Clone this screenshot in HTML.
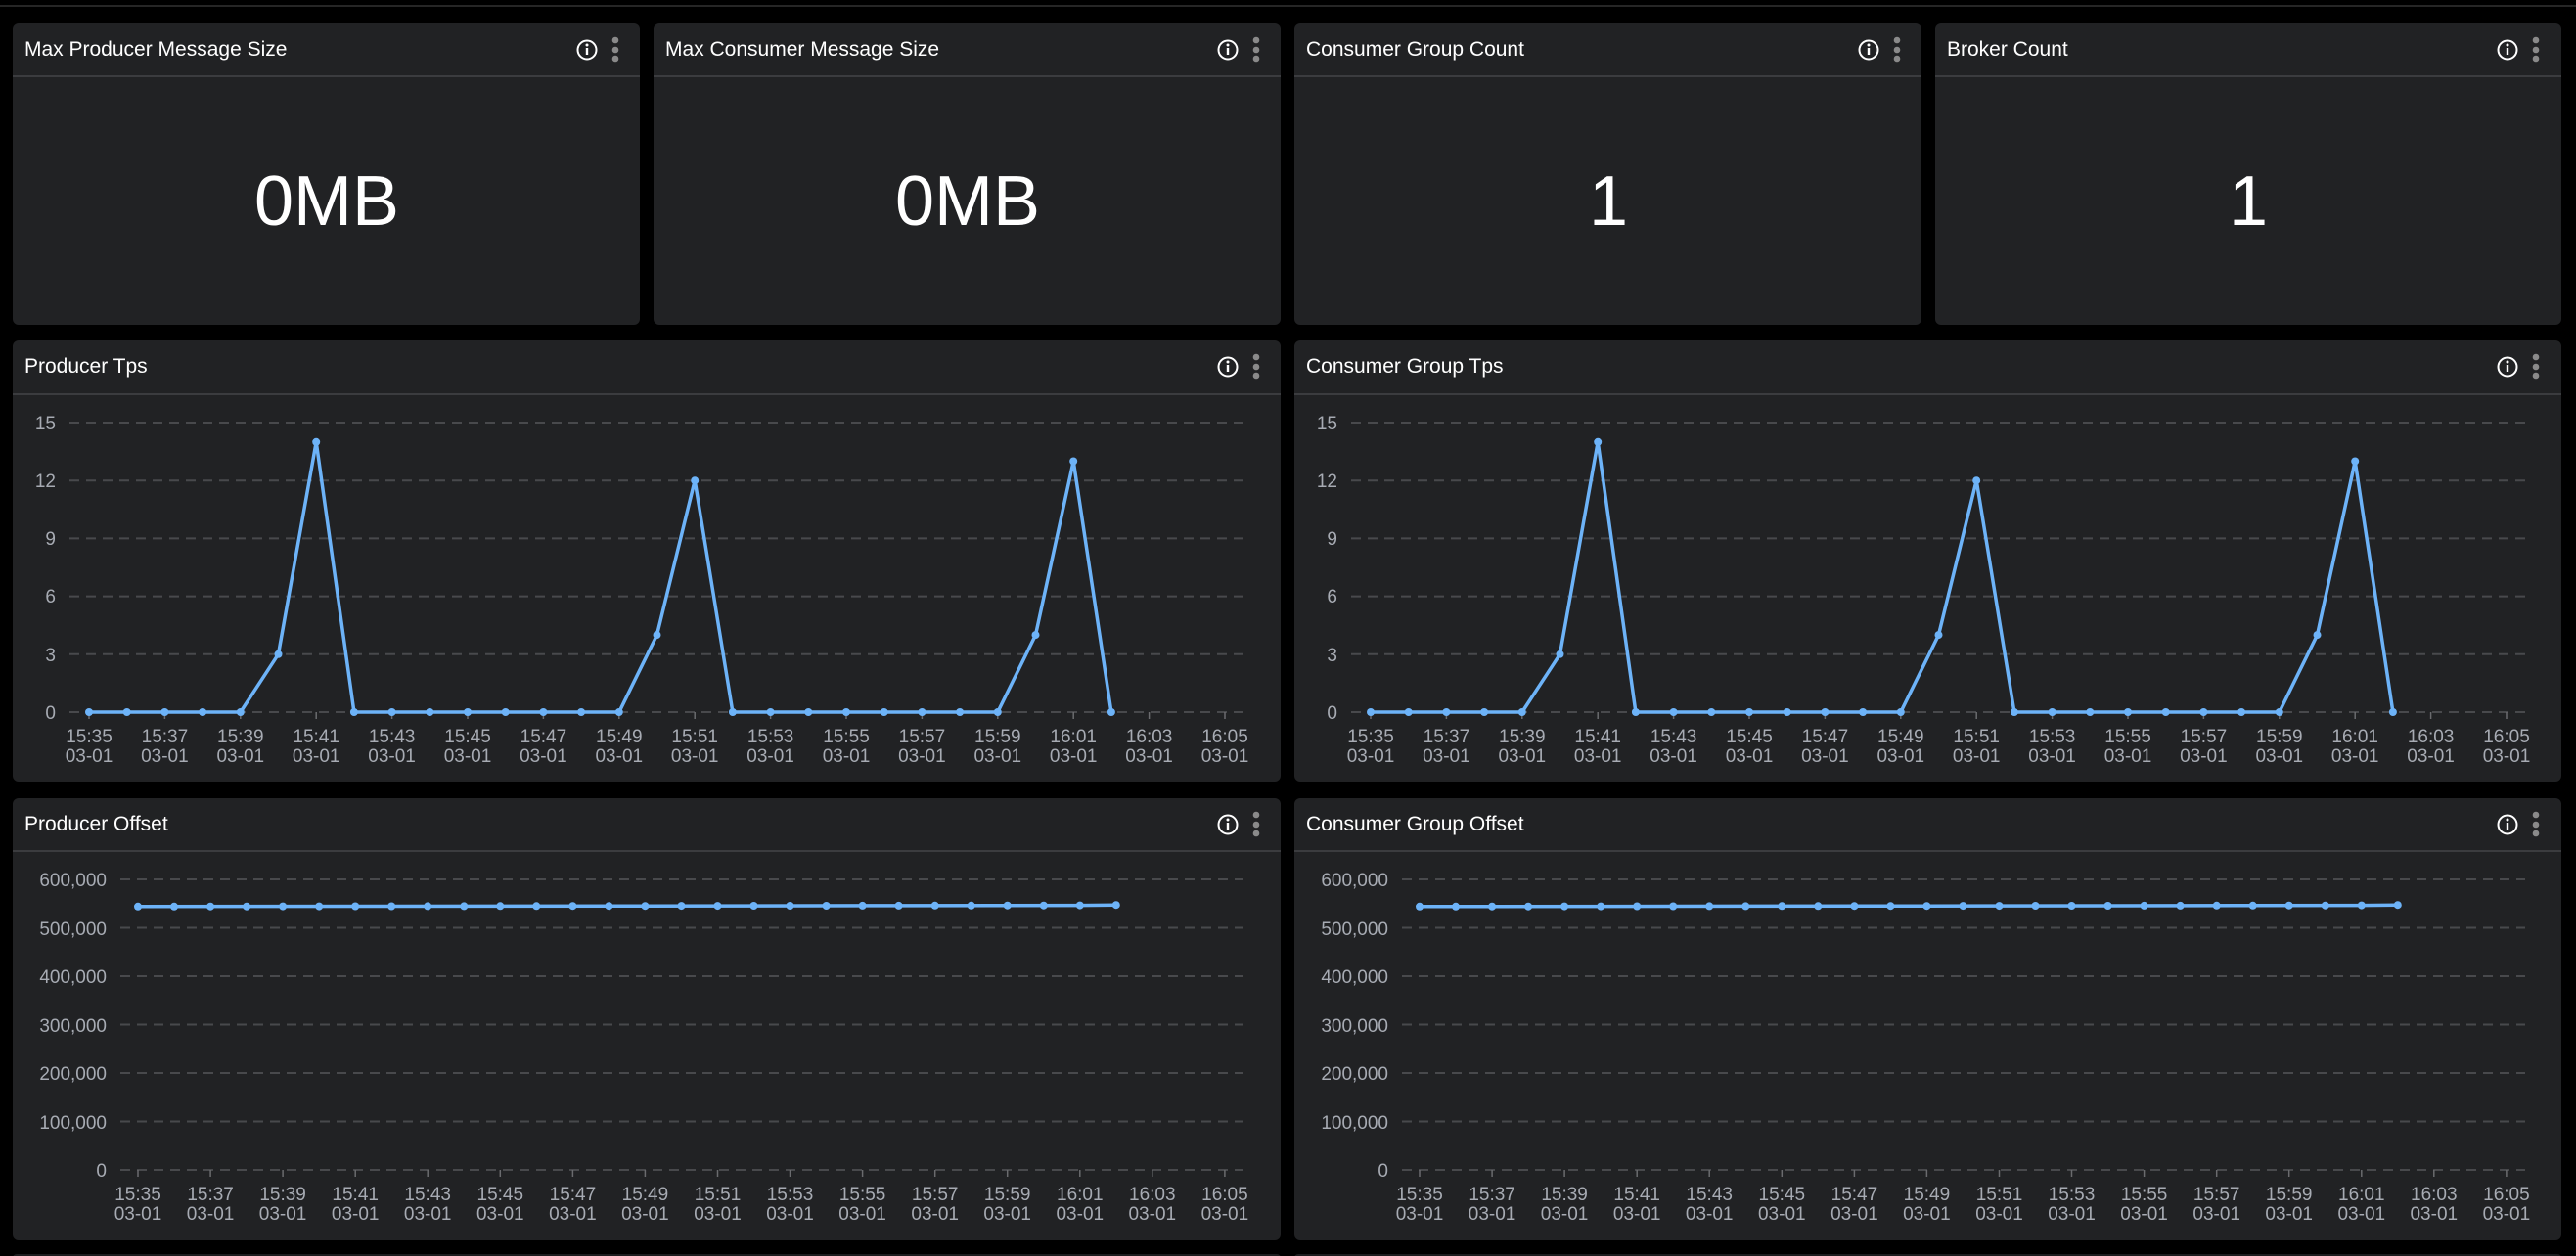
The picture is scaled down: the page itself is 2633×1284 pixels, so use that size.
<!DOCTYPE html>
<html><head><meta charset="utf-8"><style>
html,body{margin:0;padding:0;background:#000;width:2633px;height:1284px;overflow:hidden}
svg{display:block}
.pt{font-family:"Liberation Sans",sans-serif;font-size:21px;fill:#fff}
.big{font-family:"Liberation Sans",sans-serif;font-size:72px;fill:#fff}
.ax{font-family:"Liberation Sans",sans-serif;font-size:19px;fill:#a7abb3}
.g{stroke:#48494c;stroke-width:2;stroke-dasharray:10 7}
.tk{stroke:#6a6b6e;stroke-width:1.5}
.ln{fill:none;stroke:#6db3f8;stroke-width:3.5;stroke-linejoin:round}
.dt{fill:#6db3f8}
</style></head><body>
<svg width="2633" height="1284" viewBox="0 0 2633 1284" xmlns="http://www.w3.org/2000/svg">
<rect width="2633" height="1284" fill="#000"/>
<line x1="0" y1="6" x2="2633" y2="6" stroke="#333" stroke-width="1.5"/>
<defs>
<g id="icons"><circle cx="0" cy="0" r="9.5" fill="none" stroke="#fff" stroke-width="2"/><rect x="-1.2" y="-2" width="2.4" height="7" fill="#fff"/><circle cx="0" cy="-5" r="1.5" fill="#fff"/><circle cx="29" cy="-10" r="3.3" fill="#8a8a8a"/><circle cx="29" cy="0" r="3.3" fill="#8a8a8a"/><circle cx="29" cy="9" r="3.3" fill="#8a8a8a"/></g>
</defs>

<!-- Row 1 -->
<g>
<rect x="13" y="24" width="641" height="308" rx="6" fill="#212224"/><line x1="13" y1="78" x2="654" y2="78" stroke="#444548" stroke-width="1.5"/>
<text class="pt" x="25" y="57">Max Producer Message Size</text><use href="#icons" x="600" y="51"/>
<text class="big" x="334" y="230" text-anchor="middle">0MB</text>
</g>
<g>
<rect x="668" y="24" width="641" height="308" rx="6" fill="#212224"/><line x1="668" y1="78" x2="1309" y2="78" stroke="#444548" stroke-width="1.5"/>
<text class="pt" x="680" y="57">Max Consumer Message Size</text><use href="#icons" x="1255" y="51"/>
<text class="big" x="989" y="230" text-anchor="middle">0MB</text>
</g>
<g>
<rect x="1323" y="24" width="641" height="308" rx="6" fill="#212224"/><line x1="1323" y1="78" x2="1964" y2="78" stroke="#444548" stroke-width="1.5"/>
<text class="pt" x="1335" y="57">Consumer Group Count</text><use href="#icons" x="1910" y="51"/>
<text class="big" x="1644" y="230" text-anchor="middle">1</text>
</g>
<g>
<rect x="1978" y="24" width="640" height="308" rx="6" fill="#212224"/><line x1="1978" y1="78" x2="2618" y2="78" stroke="#444548" stroke-width="1.5"/>
<text class="pt" x="1990" y="57">Broker Count</text><use href="#icons" x="2563" y="51"/>
<text class="big" x="2298" y="230" text-anchor="middle">1</text>
</g>

<!-- TPS charts -->
<g id="tpsL">
<rect x="13" y="348" width="1296" height="451" rx="6" fill="#212224"/><line x1="13" y1="403" x2="1309" y2="403" stroke="#444548" stroke-width="1.5"/>
<text class="pt" x="25" y="381">Producer Tps</text><use href="#icons" x="1255" y="375"/>
<g class="g"><line x1="71" y1="432" x2="1271" y2="432"/><line x1="71" y1="491.2" x2="1271" y2="491.2"/><line x1="71" y1="550.4" x2="1271" y2="550.4"/><line x1="71" y1="609.6" x2="1271" y2="609.6"/><line x1="71" y1="668.8" x2="1271" y2="668.8"/><line x1="71" y1="728" x2="1271" y2="728"/></g>
<g class="ax" text-anchor="end"><text x="57" y="439">15</text><text x="57" y="498">12</text><text x="57" y="557">9</text><text x="57" y="616">6</text><text x="57" y="676">3</text><text x="57" y="735">0</text></g>
<g class="tk"><line x1="91" y1="728" x2="91" y2="735"/><line x1="168.4" y1="728" x2="168.4" y2="735"/><line x1="245.8" y1="728" x2="245.8" y2="735"/><line x1="323.2" y1="728" x2="323.2" y2="735"/><line x1="400.6" y1="728" x2="400.6" y2="735"/><line x1="478" y1="728" x2="478" y2="735"/><line x1="555.4" y1="728" x2="555.4" y2="735"/><line x1="632.8" y1="728" x2="632.8" y2="735"/><line x1="710.2" y1="728" x2="710.2" y2="735"/><line x1="787.6" y1="728" x2="787.6" y2="735"/><line x1="865" y1="728" x2="865" y2="735"/><line x1="942.4" y1="728" x2="942.4" y2="735"/><line x1="1019.8" y1="728" x2="1019.8" y2="735"/><line x1="1097.2" y1="728" x2="1097.2" y2="735"/><line x1="1174.6" y1="728" x2="1174.6" y2="735"/><line x1="1252" y1="728" x2="1252" y2="735"/></g>
<g class="ax" text-anchor="middle">
<text x="91" y="759">15:35</text><text x="91" y="779">03-01</text>
<text x="168.4" y="759">15:37</text><text x="168.4" y="779">03-01</text>
<text x="245.8" y="759">15:39</text><text x="245.8" y="779">03-01</text>
<text x="323.2" y="759">15:41</text><text x="323.2" y="779">03-01</text>
<text x="400.6" y="759">15:43</text><text x="400.6" y="779">03-01</text>
<text x="478" y="759">15:45</text><text x="478" y="779">03-01</text>
<text x="555.4" y="759">15:47</text><text x="555.4" y="779">03-01</text>
<text x="632.8" y="759">15:49</text><text x="632.8" y="779">03-01</text>
<text x="710.2" y="759">15:51</text><text x="710.2" y="779">03-01</text>
<text x="787.6" y="759">15:53</text><text x="787.6" y="779">03-01</text>
<text x="865" y="759">15:55</text><text x="865" y="779">03-01</text>
<text x="942.4" y="759">15:57</text><text x="942.4" y="779">03-01</text>
<text x="1019.8" y="759">15:59</text><text x="1019.8" y="779">03-01</text>
<text x="1097.2" y="759">16:01</text><text x="1097.2" y="779">03-01</text>
<text x="1174.6" y="759">16:03</text><text x="1174.6" y="779">03-01</text>
<text x="1252" y="759">16:05</text><text x="1252" y="779">03-01</text>
</g>
<polyline class="ln" points="91,728 129.7,728 168.4,728 207.1,728 245.8,728 284.5,668.8 323.2,451.8 361.9,728 400.6,728 439.3,728 478,728 516.7,728 555.4,728 594.1,728 632.8,728 671.5,649.1 710.2,491.2 748.9,728 787.6,728 826.3,728 865,728 903.7,728 942.4,728 981.1,728 1019.8,728 1058.5,649.1 1097.2,471.5 1135.9,728"/>
<g class="dt"><circle cx="91" cy="728" r="4"/><circle cx="129.7" cy="728" r="4"/><circle cx="168.4" cy="728" r="4"/><circle cx="207.1" cy="728" r="4"/><circle cx="245.8" cy="728" r="4"/><circle cx="284.5" cy="668.8" r="4"/><circle cx="323.2" cy="451.8" r="4"/><circle cx="361.9" cy="728" r="4"/><circle cx="400.6" cy="728" r="4"/><circle cx="439.3" cy="728" r="4"/><circle cx="478" cy="728" r="4"/><circle cx="516.7" cy="728" r="4"/><circle cx="555.4" cy="728" r="4"/><circle cx="594.1" cy="728" r="4"/><circle cx="632.8" cy="728" r="4"/><circle cx="671.5" cy="649.1" r="4"/><circle cx="710.2" cy="491.2" r="4"/><circle cx="748.9" cy="728" r="4"/><circle cx="787.6" cy="728" r="4"/><circle cx="826.3" cy="728" r="4"/><circle cx="865" cy="728" r="4"/><circle cx="903.7" cy="728" r="4"/><circle cx="942.4" cy="728" r="4"/><circle cx="981.1" cy="728" r="4"/><circle cx="1019.8" cy="728" r="4"/><circle cx="1058.5" cy="649.1" r="4"/><circle cx="1097.2" cy="471.5" r="4"/><circle cx="1135.9" cy="728" r="4"/></g>
</g>

<g transform="translate(1310,0)">
<rect x="13" y="348" width="1295" height="451" rx="6" fill="#212224"/><line x1="13" y1="403" x2="1308" y2="403" stroke="#444548" stroke-width="1.5"/>
<text class="pt" x="25" y="381">Consumer Group Tps</text><use href="#icons" x="1253" y="375"/>
<g class="g"><line x1="71" y1="432" x2="1271" y2="432"/><line x1="71" y1="491.2" x2="1271" y2="491.2"/><line x1="71" y1="550.4" x2="1271" y2="550.4"/><line x1="71" y1="609.6" x2="1271" y2="609.6"/><line x1="71" y1="668.8" x2="1271" y2="668.8"/><line x1="71" y1="728" x2="1271" y2="728"/></g>
<g class="ax" text-anchor="end"><text x="57" y="439">15</text><text x="57" y="498">12</text><text x="57" y="557">9</text><text x="57" y="616">6</text><text x="57" y="676">3</text><text x="57" y="735">0</text></g>
<g class="tk"><line x1="91" y1="728" x2="91" y2="735"/><line x1="168.4" y1="728" x2="168.4" y2="735"/><line x1="245.8" y1="728" x2="245.8" y2="735"/><line x1="323.2" y1="728" x2="323.2" y2="735"/><line x1="400.6" y1="728" x2="400.6" y2="735"/><line x1="478" y1="728" x2="478" y2="735"/><line x1="555.4" y1="728" x2="555.4" y2="735"/><line x1="632.8" y1="728" x2="632.8" y2="735"/><line x1="710.2" y1="728" x2="710.2" y2="735"/><line x1="787.6" y1="728" x2="787.6" y2="735"/><line x1="865" y1="728" x2="865" y2="735"/><line x1="942.4" y1="728" x2="942.4" y2="735"/><line x1="1019.8" y1="728" x2="1019.8" y2="735"/><line x1="1097.2" y1="728" x2="1097.2" y2="735"/><line x1="1174.6" y1="728" x2="1174.6" y2="735"/><line x1="1252" y1="728" x2="1252" y2="735"/></g>
<g class="ax" text-anchor="middle">
<text x="91" y="759">15:35</text><text x="91" y="779">03-01</text>
<text x="168.4" y="759">15:37</text><text x="168.4" y="779">03-01</text>
<text x="245.8" y="759">15:39</text><text x="245.8" y="779">03-01</text>
<text x="323.2" y="759">15:41</text><text x="323.2" y="779">03-01</text>
<text x="400.6" y="759">15:43</text><text x="400.6" y="779">03-01</text>
<text x="478" y="759">15:45</text><text x="478" y="779">03-01</text>
<text x="555.4" y="759">15:47</text><text x="555.4" y="779">03-01</text>
<text x="632.8" y="759">15:49</text><text x="632.8" y="779">03-01</text>
<text x="710.2" y="759">15:51</text><text x="710.2" y="779">03-01</text>
<text x="787.6" y="759">15:53</text><text x="787.6" y="779">03-01</text>
<text x="865" y="759">15:55</text><text x="865" y="779">03-01</text>
<text x="942.4" y="759">15:57</text><text x="942.4" y="779">03-01</text>
<text x="1019.8" y="759">15:59</text><text x="1019.8" y="779">03-01</text>
<text x="1097.2" y="759">16:01</text><text x="1097.2" y="779">03-01</text>
<text x="1174.6" y="759">16:03</text><text x="1174.6" y="779">03-01</text>
<text x="1252" y="759">16:05</text><text x="1252" y="779">03-01</text>
</g>
<polyline class="ln" points="91,728 129.7,728 168.4,728 207.1,728 245.8,728 284.5,668.8 323.2,451.8 361.9,728 400.6,728 439.3,728 478,728 516.7,728 555.4,728 594.1,728 632.8,728 671.5,649.1 710.2,491.2 748.9,728 787.6,728 826.3,728 865,728 903.7,728 942.4,728 981.1,728 1019.8,728 1058.5,649.1 1097.2,471.5 1135.9,728"/>
<g class="dt"><circle cx="91" cy="728" r="4"/><circle cx="129.7" cy="728" r="4"/><circle cx="168.4" cy="728" r="4"/><circle cx="207.1" cy="728" r="4"/><circle cx="245.8" cy="728" r="4"/><circle cx="284.5" cy="668.8" r="4"/><circle cx="323.2" cy="451.8" r="4"/><circle cx="361.9" cy="728" r="4"/><circle cx="400.6" cy="728" r="4"/><circle cx="439.3" cy="728" r="4"/><circle cx="478" cy="728" r="4"/><circle cx="516.7" cy="728" r="4"/><circle cx="555.4" cy="728" r="4"/><circle cx="594.1" cy="728" r="4"/><circle cx="632.8" cy="728" r="4"/><circle cx="671.5" cy="649.1" r="4"/><circle cx="710.2" cy="491.2" r="4"/><circle cx="748.9" cy="728" r="4"/><circle cx="787.6" cy="728" r="4"/><circle cx="826.3" cy="728" r="4"/><circle cx="865" cy="728" r="4"/><circle cx="903.7" cy="728" r="4"/><circle cx="942.4" cy="728" r="4"/><circle cx="981.1" cy="728" r="4"/><circle cx="1019.8" cy="728" r="4"/><circle cx="1058.5" cy="649.1" r="4"/><circle cx="1097.2" cy="471.5" r="4"/><circle cx="1135.9" cy="728" r="4"/></g>
</g>

<!-- Offset charts -->
<g>
<rect x="13" y="816" width="1296" height="452" rx="6" fill="#212224"/><line x1="13" y1="870" x2="1309" y2="870" stroke="#444548" stroke-width="1.5"/>
<text class="pt" x="25" y="849">Producer Offset</text><use href="#icons" x="1255" y="843"/>
<g class="g"><line x1="123" y1="899" x2="1271" y2="899"/><line x1="123" y1="948.5" x2="1271" y2="948.5"/><line x1="123" y1="998" x2="1271" y2="998"/><line x1="123" y1="1047.5" x2="1271" y2="1047.5"/><line x1="123" y1="1097" x2="1271" y2="1097"/><line x1="123" y1="1146.5" x2="1271" y2="1146.5"/><line x1="123" y1="1196" x2="1271" y2="1196"/></g>
<g class="ax" text-anchor="end"><text x="109" y="906">600,000</text><text x="109" y="956">500,000</text><text x="109" y="1005">400,000</text><text x="109" y="1055">300,000</text><text x="109" y="1104">200,000</text><text x="109" y="1154">100,000</text><text x="109" y="1203">0</text></g>
<g class="tk"><line x1="141" y1="1196" x2="141" y2="1203"/><line x1="215.1" y1="1196" x2="215.1" y2="1203"/><line x1="289.1" y1="1196" x2="289.1" y2="1203"/><line x1="363.2" y1="1196" x2="363.2" y2="1203"/><line x1="437.2" y1="1196" x2="437.2" y2="1203"/><line x1="511.3" y1="1196" x2="511.3" y2="1203"/><line x1="585.4" y1="1196" x2="585.4" y2="1203"/><line x1="659.4" y1="1196" x2="659.4" y2="1203"/><line x1="733.5" y1="1196" x2="733.5" y2="1203"/><line x1="807.5" y1="1196" x2="807.5" y2="1203"/><line x1="881.6" y1="1196" x2="881.6" y2="1203"/><line x1="955.7" y1="1196" x2="955.7" y2="1203"/><line x1="1029.7" y1="1196" x2="1029.7" y2="1203"/><line x1="1103.8" y1="1196" x2="1103.8" y2="1203"/><line x1="1177.8" y1="1196" x2="1177.8" y2="1203"/><line x1="1251.9" y1="1196" x2="1251.9" y2="1203"/></g>
<g class="ax" text-anchor="middle">
<text x="141" y="1227">15:35</text><text x="141" y="1247">03-01</text>
<text x="215.1" y="1227">15:37</text><text x="215.1" y="1247">03-01</text>
<text x="289.1" y="1227">15:39</text><text x="289.1" y="1247">03-01</text>
<text x="363.2" y="1227">15:41</text><text x="363.2" y="1247">03-01</text>
<text x="437.2" y="1227">15:43</text><text x="437.2" y="1247">03-01</text>
<text x="511.3" y="1227">15:45</text><text x="511.3" y="1247">03-01</text>
<text x="585.4" y="1227">15:47</text><text x="585.4" y="1247">03-01</text>
<text x="659.4" y="1227">15:49</text><text x="659.4" y="1247">03-01</text>
<text x="733.5" y="1227">15:51</text><text x="733.5" y="1247">03-01</text>
<text x="807.5" y="1227">15:53</text><text x="807.5" y="1247">03-01</text>
<text x="881.6" y="1227">15:55</text><text x="881.6" y="1247">03-01</text>
<text x="955.7" y="1227">15:57</text><text x="955.7" y="1247">03-01</text>
<text x="1029.7" y="1227">15:59</text><text x="1029.7" y="1247">03-01</text>
<text x="1103.8" y="1227">16:01</text><text x="1103.8" y="1247">03-01</text>
<text x="1177.8" y="1227">16:03</text><text x="1177.8" y="1247">03-01</text>
<text x="1251.9" y="1227">16:05</text><text x="1251.9" y="1247">03-01</text>
</g>
<polyline class="ln" points="141,926.8 400.2,926.5 659.4,926.2 918.6,925.9 1103.8,925.6 1140.8,925.2"/>
<g class="dt"><circle cx="141" cy="926.8" r="4"/><circle cx="178" cy="926.8" r="4"/><circle cx="215.1" cy="926.7" r="4"/><circle cx="252.1" cy="926.7" r="4"/><circle cx="289.1" cy="926.6" r="4"/><circle cx="326.2" cy="926.6" r="4"/><circle cx="363.2" cy="926.5" r="4"/><circle cx="400.2" cy="926.5" r="4"/><circle cx="437.2" cy="926.4" r="4"/><circle cx="474.3" cy="926.4" r="4"/><circle cx="511.3" cy="926.3" r="4"/><circle cx="548.3" cy="926.3" r="4"/><circle cx="585.4" cy="926.2" r="4"/><circle cx="622.4" cy="926.2" r="4"/><circle cx="659.4" cy="926.2" r="4"/><circle cx="696.5" cy="926.1" r="4"/><circle cx="733.5" cy="926.1" r="4"/><circle cx="770.5" cy="926" r="4"/><circle cx="807.5" cy="926" r="4"/><circle cx="844.6" cy="926" r="4"/><circle cx="881.6" cy="925.9" r="4"/><circle cx="918.6" cy="925.9" r="4"/><circle cx="955.7" cy="925.8" r="4"/><circle cx="992.7" cy="925.8" r="4"/><circle cx="1029.7" cy="925.7" r="4"/><circle cx="1066.8" cy="925.7" r="4"/><circle cx="1103.8" cy="925.6" r="4"/><circle cx="1140.8" cy="925.2" r="4"/></g>
</g>

<g transform="translate(1310,0)">
<rect x="13" y="816" width="1295" height="452" rx="6" fill="#212224"/><line x1="13" y1="870" x2="1308" y2="870" stroke="#444548" stroke-width="1.5"/>
<text class="pt" x="25" y="849">Consumer Group Offset</text><use href="#icons" x="1253" y="843"/>
<g class="g"><line x1="123" y1="899" x2="1271" y2="899"/><line x1="123" y1="948.5" x2="1271" y2="948.5"/><line x1="123" y1="998" x2="1271" y2="998"/><line x1="123" y1="1047.5" x2="1271" y2="1047.5"/><line x1="123" y1="1097" x2="1271" y2="1097"/><line x1="123" y1="1146.5" x2="1271" y2="1146.5"/><line x1="123" y1="1196" x2="1271" y2="1196"/></g>
<g class="ax" text-anchor="end"><text x="109" y="906">600,000</text><text x="109" y="956">500,000</text><text x="109" y="1005">400,000</text><text x="109" y="1055">300,000</text><text x="109" y="1104">200,000</text><text x="109" y="1154">100,000</text><text x="109" y="1203">0</text></g>
<g class="tk"><line x1="141" y1="1196" x2="141" y2="1203"/><line x1="215.1" y1="1196" x2="215.1" y2="1203"/><line x1="289.1" y1="1196" x2="289.1" y2="1203"/><line x1="363.2" y1="1196" x2="363.2" y2="1203"/><line x1="437.2" y1="1196" x2="437.2" y2="1203"/><line x1="511.3" y1="1196" x2="511.3" y2="1203"/><line x1="585.4" y1="1196" x2="585.4" y2="1203"/><line x1="659.4" y1="1196" x2="659.4" y2="1203"/><line x1="733.5" y1="1196" x2="733.5" y2="1203"/><line x1="807.5" y1="1196" x2="807.5" y2="1203"/><line x1="881.6" y1="1196" x2="881.6" y2="1203"/><line x1="955.7" y1="1196" x2="955.7" y2="1203"/><line x1="1029.7" y1="1196" x2="1029.7" y2="1203"/><line x1="1103.8" y1="1196" x2="1103.8" y2="1203"/><line x1="1177.8" y1="1196" x2="1177.8" y2="1203"/><line x1="1251.9" y1="1196" x2="1251.9" y2="1203"/></g>
<g class="ax" text-anchor="middle">
<text x="141" y="1227">15:35</text><text x="141" y="1247">03-01</text>
<text x="215.1" y="1227">15:37</text><text x="215.1" y="1247">03-01</text>
<text x="289.1" y="1227">15:39</text><text x="289.1" y="1247">03-01</text>
<text x="363.2" y="1227">15:41</text><text x="363.2" y="1247">03-01</text>
<text x="437.2" y="1227">15:43</text><text x="437.2" y="1247">03-01</text>
<text x="511.3" y="1227">15:45</text><text x="511.3" y="1247">03-01</text>
<text x="585.4" y="1227">15:47</text><text x="585.4" y="1247">03-01</text>
<text x="659.4" y="1227">15:49</text><text x="659.4" y="1247">03-01</text>
<text x="733.5" y="1227">15:51</text><text x="733.5" y="1247">03-01</text>
<text x="807.5" y="1227">15:53</text><text x="807.5" y="1247">03-01</text>
<text x="881.6" y="1227">15:55</text><text x="881.6" y="1247">03-01</text>
<text x="955.7" y="1227">15:57</text><text x="955.7" y="1247">03-01</text>
<text x="1029.7" y="1227">15:59</text><text x="1029.7" y="1247">03-01</text>
<text x="1103.8" y="1227">16:01</text><text x="1103.8" y="1247">03-01</text>
<text x="1177.8" y="1227">16:03</text><text x="1177.8" y="1247">03-01</text>
<text x="1251.9" y="1227">16:05</text><text x="1251.9" y="1247">03-01</text>
</g>
<polyline class="ln" points="141,926.8 400.2,926.5 659.4,926.2 918.6,925.9 1103.8,925.6 1140.8,925.2"/>
<g class="dt"><circle cx="141" cy="926.8" r="4"/><circle cx="178" cy="926.8" r="4"/><circle cx="215.1" cy="926.7" r="4"/><circle cx="252.1" cy="926.7" r="4"/><circle cx="289.1" cy="926.6" r="4"/><circle cx="326.2" cy="926.6" r="4"/><circle cx="363.2" cy="926.5" r="4"/><circle cx="400.2" cy="926.5" r="4"/><circle cx="437.2" cy="926.4" r="4"/><circle cx="474.3" cy="926.4" r="4"/><circle cx="511.3" cy="926.3" r="4"/><circle cx="548.3" cy="926.3" r="4"/><circle cx="585.4" cy="926.2" r="4"/><circle cx="622.4" cy="926.2" r="4"/><circle cx="659.4" cy="926.2" r="4"/><circle cx="696.5" cy="926.1" r="4"/><circle cx="733.5" cy="926.1" r="4"/><circle cx="770.5" cy="926" r="4"/><circle cx="807.5" cy="926" r="4"/><circle cx="844.6" cy="926" r="4"/><circle cx="881.6" cy="925.9" r="4"/><circle cx="918.6" cy="925.9" r="4"/><circle cx="955.7" cy="925.8" r="4"/><circle cx="992.7" cy="925.8" r="4"/><circle cx="1029.7" cy="925.7" r="4"/><circle cx="1066.8" cy="925.7" r="4"/><circle cx="1103.8" cy="925.6" r="4"/><circle cx="1140.8" cy="925.2" r="4"/></g>
</g>

<rect x="13" y="1282" width="1296" height="10" rx="4" fill="#1c1d1f"/>
<rect x="1323" y="1282" width="1295" height="10" rx="4" fill="#1c1d1f"/>
</svg>
</body></html>
